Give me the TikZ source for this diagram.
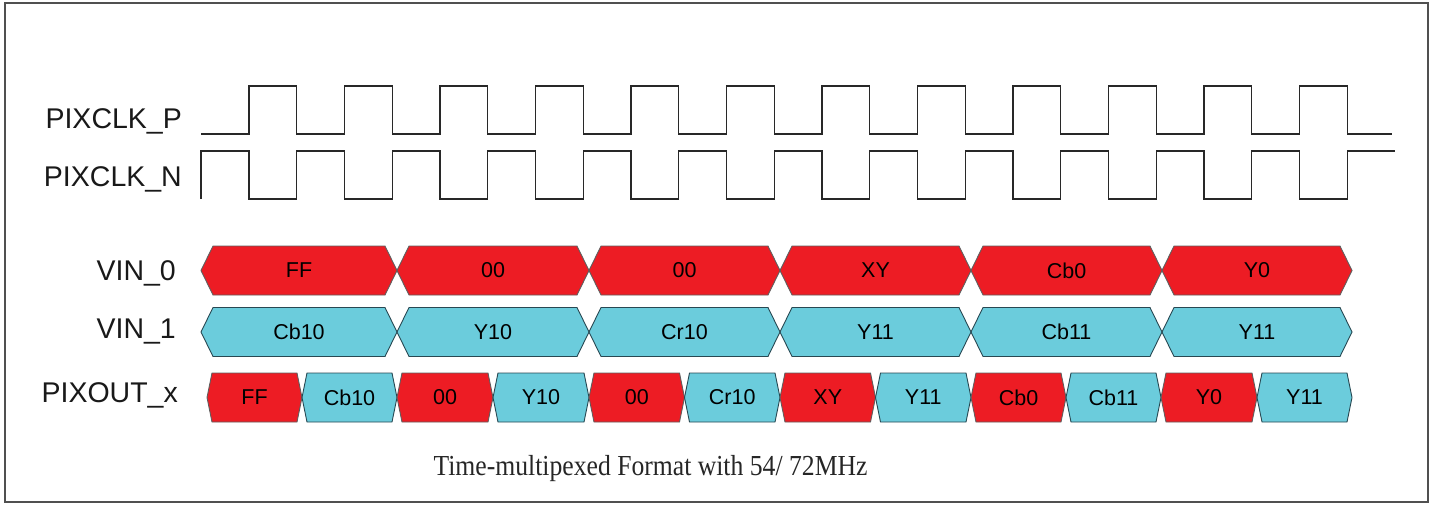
\documentclass[tikz,border=0pt]{standalone}
\usepackage{fontspec}
\setmainfont{Liberation Serif}
\setsansfont{Liberation Sans}
\definecolor{hexred}{RGB}{237,28,36}
\definecolor{hexcyan}{RGB}{107,204,220}
\definecolor{redline}{RGB}{95,95,95}
\definecolor{cyanline}{RGB}{40,72,82}
\definecolor{framecol}{RGB}{80,80,80}
\definecolor{wavecol}{RGB}{40,40,40}
\newcommand{\hexcell}[7]{%
  \path[#6] (#2,#4) -- ({#2+#5},{#4-24.5}) -- ({#3-#5},{#4-24.5}) -- (#3,#4)
    -- ({#3-#5},{#4+24.5}) -- ({#2+#5},{#4+24.5}) -- cycle;
  \node[celltext] (#1) at ({(#2+#3)/2},#4) {#7};}
\begin{document}
\begin{tikzpicture}[x=1pt,y=-1pt,
  redcell/.style={fill=hexred,draw=redline,line width=0.9pt},
  cyancell/.style={fill=hexcyan,draw=cyanline,line width=0.9pt},
  celltext/.style={font=\sffamily\fontsize{21.5}{24}\selectfont,inner sep=0pt,text=black},
  siglabel/.style={font=\sffamily\fontsize{28.5}{31}\selectfont,anchor=base east,inner sep=0pt,text=black!90},
  wave/.style={draw=wavecol,line width=1.4pt,line join=miter},
  caption/.style={font=\rmfamily\fontsize{29}{33}\selectfont,anchor=base,inner sep=0pt,text=black!85}]
\useasboundingbox (0,0) rectangle (1433,504);
\draw[framecol,line width=1.5pt] (5,3) rectangle (1428,502);
% labels
\node[siglabel] (lp) at (182,128) {PIXCLK\_P};
\node[siglabel] (ln) at (182,186) {PIXCLK\_N};
\node[siglabel] (l0) at (176,280) {VIN\_0};
\node[siglabel] (l1) at (176,338) {VIN\_1};
\node[siglabel] (lo) at (178,402) {PIXOUT\_x};
% clocks
\draw[wave] (201,134) \foreach \k in {0,...,11} {
  -- ({249+95.5*\k},134) -- ({249+95.5*\k},86) -- ({296.75+95.5*\k},86) -- ({296.75+95.5*\k},134) } -- (1392,134);
\draw[wave] (201,199) -- (201,151) \foreach \k in {0,...,11} {
  -- ({249+95.5*\k},151) -- ({249+95.5*\k},199) -- ({296.75+95.5*\k},199) -- ({296.75+95.5*\k},151) } -- (1395,151);
% VIN_0
\hexcell{a1}{201}{397}{270.5}{12}{redcell}{FF}
\hexcell{a2}{397}{589}{270.5}{12}{redcell}{00}
\hexcell{a3}{589}{780}{270.5}{12}{redcell}{00}
\hexcell{a4}{780}{971}{270.5}{12}{redcell}{XY}
\hexcell{a5}{971}{1162}{270.5}{12}{redcell}{Cb0}
\hexcell{a6}{1162}{1352}{270.5}{12}{redcell}{Y0}
% VIN_1
\hexcell{b1}{201}{397}{332}{12}{cyancell}{Cb10}
\hexcell{b2}{397}{589}{332}{12}{cyancell}{Y10}
\hexcell{b3}{589}{780}{332}{12}{cyancell}{Cr10}
\hexcell{b4}{780}{971}{332}{12}{cyancell}{Y11}
\hexcell{b5}{971}{1162}{332}{12}{cyancell}{Cb11}
\hexcell{b6}{1162}{1352}{332}{12}{cyancell}{Y11}
% PIXOUT_x
\hexcell{c1}{207}{302}{397.5}{5}{redcell}{FF}
\hexcell{c2}{302}{397}{397.5}{5}{cyancell}{Cb10}
\hexcell{c3}{397}{493}{397.5}{5}{redcell}{00}
\hexcell{c4}{493}{589}{397.5}{5}{cyancell}{Y10}
\hexcell{c5}{589}{684.5}{397.5}{5}{redcell}{00}
\hexcell{c6}{684.5}{780}{397.5}{5}{cyancell}{Cr10}
\hexcell{c7}{780}{875.5}{397.5}{5}{redcell}{XY}
\hexcell{c8}{875.5}{971}{397.5}{5}{cyancell}{Y11}
\hexcell{c9}{971}{1066}{397.5}{5}{redcell}{Cb0}
\hexcell{c10}{1066}{1161}{397.5}{5}{cyancell}{Cb11}
\hexcell{c11}{1161}{1257}{397.5}{5}{redcell}{Y0}
\hexcell{c12}{1257}{1352}{397.5}{5}{cyancell}{Y11}
% caption
\node[caption] (cap) at (650.5,475) {\scalebox{0.885}[1]{Time-multipexed Format with 54/ 72MHz}};
\end{tikzpicture}
\end{document}
